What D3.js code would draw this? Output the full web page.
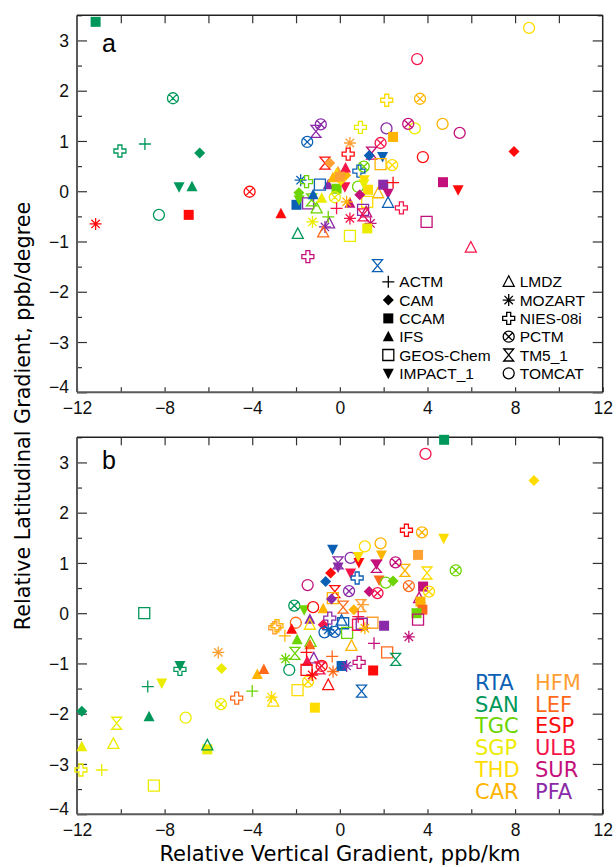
<!DOCTYPE html>
<html>
<head>
<meta charset="utf-8">
<title>vertical vs latitudinal gradient</title>
<style>
body { margin: 0; background: #fff; }
svg { display: block; }
.tick text { font-family: "Liberation Sans", Arial, sans-serif; font-size: 17.5px; fill: #111; }
.tick line { stroke: #333; stroke-width: 1.2; }
.domain { display: none; }
</style>
</head>
<body>
<svg width="616" height="867"></svg>
<script src="https://d3js.org/d3.v7.min.js"></script>
<script>
var stations = ["RTA", "SAN", "TGC", "SGP", "THD", "CAR", "HFM", "LEF", "ESP", "ULB", "SUR", "PFA"];
var stationColors = ["#0b5fb5", "#00985a", "#6cd400", "#ecec00", "#ffdc00", "#ffb400",
                     "#ffa035", "#ff6a1a", "#ff0a0a", "#f5154a", "#c3107a", "#8a2aa8"];
var models = ["ACTM", "CAM", "CCAM", "IFS", "GEOS-Chem", "IMPACT_1",
              "LMDZ", "MOZART", "NIES-08i", "PCTM", "TM5_1", "TOMCAT"];
var xTicks = [-12, -8, -4, 0, 4, 8, 12];
var yTicks = [-4, -3, -2, -1, 0, 1, 2, 3];

// [station, model, relative vertical gradient (ppb/km), relative latitudinal gradient (ppb/degree)]
var panelA = [
    ["SAN","CCAM",-11.15,3.37], ["SAN","PCTM",-7.62,1.85], ["SAN","NIES-08i",-10.04,0.80],
    ["SAN","ACTM",-8.90,0.94], ["SAN","CAM",-6.40,0.76], ["SAN","IMPACT_1",-7.34,0.09],
    ["SAN","IFS",-6.75,0.09], ["ESP","PCTM",-4.12,-0.01], ["ESP","MOZART",-11.15,-0.65],
    ["SAN","TOMCAT",-8.26,-0.47], ["ESP","CCAM",-6.90,-0.47], ["ESP","IFS",-2.69,-0.45],
    ["SAN","LMDZ",-1.92,-0.85], ["SUR","NIES-08i",-1.46,-1.30], ["RTA","TM5_1",1.72,-1.48],
    ["ULB","LMDZ",5.98,-1.12], ["SUR","GEOS-Chem",3.96,-0.61], ["ESP","CAM",7.95,0.79],
    ["SUR","CCAM",4.71,0.18], ["ESP","IMPACT_1",5.40,0.03], ["THD","TOMCAT",8.64,3.25],
    ["ULB","TOMCAT",3.53,2.63], ["CAR","PCTM",3.66,1.84], ["THD","NIES-08i",2.14,1.81],
    ["CAR","TOMCAT",4.69,1.34], ["SUR","TOMCAT",5.47,1.16], ["ESP","TOMCAT",3.79,0.68],
    ["SGP","TOMCAT",3.42,1.25], ["SUR","PCTM",3.12,1.34], ["PFA","TOMCAT",2.13,1.25],
    ["SGP","NIES-08i",0.94,1.27], ["CAR","CCAM",2.43,1.08], ["HFM","MOZART",0.46,0.96],
    ["ULB","PCTM",1.86,0.96], ["ESP","NIES-08i",0.38,0.74], ["SUR","TM5_1",1.45,0.76],
    ["RTA","CAM",1.34,0.71], ["RTA","IMPACT_1",1.95,0.69], ["CAR","GEOS-Chem",1.86,0.54],
    ["THD","PCTM",2.39,0.52], ["TGC","PCTM",1.09,0.49], ["RTA","NIES-08i",0.87,0.40],
    ["ESP","TM5_1",-0.68,0.56], ["HFM","CAM",-0.46,0.56], ["PFA","PCTM",-0.87,1.33],
    ["PFA","TM5_1",-1.09,1.19], ["RTA","PCTM",-1.49,0.98], ["HFM","IFS",-0.08,0.39],
    ["CAR","CAM",0.27,0.32], ["THD","IFS",-0.15,0.36], ["ULB","IFS",0.26,0.46],
    ["THD","IMPACT_1",1.11,0.23], ["ULB","IMPACT_1",0.23,0.09], ["PFA","IFS",-0.53,0.13],
    ["RTA","GEOS-Chem",-0.91,0.13], ["TGC","CCAM",-0.15,0.05], ["RTA","MOZART",-1.79,0.22],
    ["TGC","NIES-08i",-1.52,0.19], ["TGC","CAM",-1.87,-0.03], ["RTA","CCAM",-1.98,-0.27],
    ["TGC","IMPACT_1",-1.86,-0.17], ["PFA","GEOS-Chem",-1.45,-0.24], ["TGC","TM5_1",-1.29,-0.17],
    ["RTA","IFS",-1.22,-0.07], ["TGC","LMDZ",-1.06,-0.34], ["SGP","IFS",-0.83,-0.14],
    ["SGP","PCTM",-0.23,-0.12], ["TGC","TOMCAT",0.83,0.09], ["THD","CCAM",1.29,0.03],
    ["CAR","LMDZ",1.75,-0.04], ["PFA","CCAM",1.98,0.13], ["ESP","ACTM",2.43,0.17],
    ["SUR","IMPACT_1",2.20,-0.04], ["RTA","LMDZ",2.20,-0.23], ["ULB","NIES-08i",2.81,-0.33],
    ["THD","GEOS-Chem",1.25,-0.21], ["SUR","IFS",0.46,-0.24], ["ULB","ACTM",-0.15,-0.34],
    ["CAR","MOZART",0.31,-0.21], ["PFA","GEOS-Chem",1.06,-0.37], ["SUR","LMDZ",1.20,-0.42],
    ["SUR","CAM",0.91,-0.07], ["ULB","MOZART",0.46,-0.54], ["ULB","TM5_1",1.06,-0.47],
    ["SUR","MOZART",1.40,-0.64], ["SGP","CCAM",1.25,-0.74], ["SGP","MOZART",-1.25,-0.61],
    ["PFA","MOZART",-0.68,-0.71], ["PFA","LMDZ",-0.49,-0.64], ["LEF","LMDZ",-0.76,-0.82],
    ["TGC","ACTM",-0.53,-0.51], ["SGP","GEOS-Chem",0.46,-0.89], ["CAR","IFS",-0.32,0.27],
    ["THD","CAM",0.05,0.22], ["HFM","CCAM",0.00,0.29], ["SGP","IMPACT_1",1.10,0.15]
];

var panelB = [
    ["SAN","GEOS-Chem",-8.93,0.00], ["HFM","MOZART",-5.55,-0.78], ["SGP","CAM",-5.40,-1.10],
    ["SAN","IMPACT_1",-7.30,-1.04], ["SAN","NIES-08i",-7.30,-1.12], ["SAN","ACTM",-8.77,-1.46],
    ["SGP","IMPACT_1",-8.13,-1.39], ["SAN","CAM",-11.78,-1.95], ["SAN","IFS",-8.71,-2.06],
    ["SGP","TM5_1",-10.19,-2.19], ["SGP","TOMCAT",-7.04,-2.08], ["SGP","PCTM",-5.43,-1.81],
    ["LEF","NIES-08i",-4.71,-1.69], ["TGC","ACTM",-4.00,-1.55], ["THD","MOZART",-3.12,-1.67],
    ["THD","LMDZ",-3.04,-1.76], ["CAR","IFS",-3.77,-1.22], ["LEF","IFS",-3.47,-1.12],
    ["SGP","IFS",-11.78,-2.66], ["SGP","LMDZ",-10.34,-2.60], ["SGP","CCAM",-6.05,-2.71],
    ["SAN","LMDZ",-6.05,-2.63], ["SGP","NIES-08i",-11.82,-3.12], ["SGP","ACTM",-10.87,-3.12],
    ["SGP","GEOS-Chem",-8.49,-3.43], ["TGC","TM5_1",-2.05,-0.80], ["TGC","MOZART",-2.48,-0.91],
    ["SAN","TOMCAT",-2.31,-1.13], ["THD","GEOS-Chem",-1.93,-1.53], ["THD","CCAM",-1.14,-1.88],
    ["THD","PCTM",-1.45,-1.36], ["RTA","IMPACT_1",-0.33,1.27], ["PFA","TM5_1",-0.08,1.00],
    ["PFA","TOMCAT",0.49,1.10], ["PFA","IMPACT_1",-0.08,0.92], ["ESP","IMPACT_1",0.87,1.01],
    ["THD","IMPACT_1",0.84,1.13], ["THD","TOMCAT",1.14,1.33], ["CAR","TOMCAT",1.86,1.39],
    ["CAR","IMPACT_1",1.90,1.16], ["SUR","IMPACT_1",1.67,0.98], ["SUR","TM5_1",1.67,0.93],
    ["ESP","CAM",-0.42,0.80], ["RTA","CAM",-0.65,0.63], ["SUR","TOMCAT",-1.47,0.56],
    ["ULB","IMPACT_1",0.49,0.80], ["RTA","NIES-08i",0.79,0.70], ["LEF","IMPACT_1",1.79,0.66],
    ["TGC","TOMCAT",2.10,0.61], ["TGC","CAM",2.43,0.64], ["PFA","PCTM",0.42,0.44],
    ["ESP","TM5_1",-0.23,0.43], ["SUR","CAM",1.34,0.43], ["ULB","PCTM",1.72,0.40],
    ["CAR","GEOS-Chem",-0.32,0.30], ["PFA","CAM",-0.38,0.28], ["SAN","PCTM",-2.08,0.15],
    ["TGC","IMPACT_1",-1.63,0.07], ["ESP","TOMCAT",-1.22,0.12], ["CAR","IFS",-0.76,0.09],
    ["LEF","TM5_1",0.15,0.12], ["CAR","CAM",0.64,0.07], ["HFM","TM5_1",0.96,0.15],
    ["HFM","ACTM",1.06,0.17], ["PFA","IFS",-1.37,-0.12], ["THD","LMDZ",-1.37,-0.23],
    ["LEF","TOMCAT",-2.01,-0.19], ["HFM","NIES-08i",-2.97,-0.29], ["CAR","NIES-08i",-2.87,-0.25],
    ["ESP","IFS",-2.20,-0.32], ["CAR","ACTM",-2.51,-0.45], ["PFA","NIES-08i",-0.46,-0.10],
    ["RTA","LMDZ",0.08,-0.15], ["RTA","GEOS-Chem",0.15,-0.20], ["ULB","CAM",-0.76,-0.23],
    ["RTA","MOZART",-0.53,-0.33], ["RTA","PCTM",-0.23,-0.37], ["RTA","TOMCAT",-0.70,-0.38],
    ["TGC","GEOS-Chem",0.33,-0.39], ["PFA","CCAM",2.02,-0.25], ["HFM","GEOS-Chem",1.49,-0.19],
    ["ULB","GEOS-Chem",0.83,-0.23], ["PFA","GEOS-Chem",1.00,-0.21], ["CAR","MOZART",1.14,-0.30],
    ["CAR","LMDZ",0.53,-0.65], ["SUR","ACTM",1.56,-0.60], ["LEF","GEOS-Chem",2.16,-0.78],
    ["TGC","IFS",-1.95,-0.53], ["TGC","LMDZ",-1.34,-0.57], ["LEF","IFS",-1.37,-0.63],
    ["LEF","ACTM",-0.35,-0.86], ["PFA","LMDZ",-1.19,-0.90], ["ESP","ACTM",-1.52,-0.78],
    ["ULB","IFS",-1.49,-0.96], ["ESP","GEOS-Chem",-1.52,-1.13], ["ESP","PCTM",-0.83,-1.05],
    ["ULB","TM5_1",-0.91,-1.09], ["ESP","MOZART",-1.26,-1.23], ["LEF","MOZART",-0.31,-1.16],
    ["RTA","CCAM",0.08,-1.05], ["PFA","MOZART",0.31,-1.05], ["SUR","NIES-08i",0.88,-0.98],
    ["ESP","CCAM",1.52,-1.14], ["ESP","LMDZ",-0.53,-1.43], ["RTA","TM5_1",0.99,-1.55],
    ["SAN","CCAM",4.76,3.45], ["ULB","TOMCAT",3.91,3.17], ["THD","CAM",8.86,2.64],
    ["ESP","NIES-08i",3.04,1.65], ["CAR","PCTM",3.75,1.61], ["THD","IMPACT_1",4.74,1.49],
    ["HFM","CCAM",3.57,1.16], ["CAR","TM5_1",2.97,0.85], ["THD","TM5_1",3.98,0.80],
    ["TGC","PCTM",5.29,0.85], ["SUR","PCTM",2.54,1.01], ["LEF","PCTM",3.15,0.54],
    ["SUR","CCAM",3.80,0.53], ["THD","PCTM",4.07,0.43], ["SUR","LMDZ",3.62,0.30],
    ["CAR","CCAM",3.68,0.23], ["LEF","CCAM",3.77,0.07], ["TGC","CCAM",3.50,0.00],
    ["SUR","GEOS-Chem",3.57,-0.13], ["SUR","MOZART",3.15,-0.47], ["SAN","TM5_1",2.55,-0.92],
    ["ULB","ACTM",0.84,-0.07]
];

var svg = d3.select("svg");
var x = d3.scaleLinear().domain([-12, 12]).range([77, 602.7]);
var color = d3.scaleOrdinal().domain(stations).range(stationColors);
var filled = ["CAM", "CCAM", "IFS", "IMPACT_1"];

function shape(m) {
    var circle = "M5.5,0A5.5,5.5 0 1,1 -5.5,0A5.5,5.5 0 1,1 5.5,0Z";
    switch (m) {
        case "ACTM": return "M-6,0H6M0,-6V6";
        case "CAM": return "M0,-5.5L5.5,0L0,5.5L-5.5,0Z";
        case "CCAM": return "M-5,-5H5V5H-5Z";
        case "IFS": return "M0,-6L5.5,4.5H-5.5Z";
        case "GEOS-Chem": return "M-5.5,-5.5H5.5V5.5H-5.5Z";
        case "IMPACT_1": return "M-5.5,-4.5H5.5L0,6Z";
        case "LMDZ": return "M0,-6L5.5,4.5H-5.5Z";
        case "MOZART": return "M-6,0H6M0,-6V6M-4.2,-4.2L4.2,4.2M-4.2,4.2L4.2,-4.2";
        case "NIES-08i": return "M-2,-6H2V-2H6V2H2V6H-2V2H-6V-2H-2Z";
        case "PCTM": return circle + "M-3.9,-3.9L3.9,3.9M-3.9,3.9L3.9,-3.9";
        case "TM5_1": return "M-5,-6H5L-5,6H5Z";
        default: return circle;
    }
}

function styleMark(sel, col) {
    sel.attr("d", d => shape(d[1]))
        .attr("fill", d => filled.indexOf(d[1]) >= 0 ? col(d) : "none")
        .attr("stroke", d => filled.indexOf(d[1]) >= 0 ? "none" : col(d))
        .attr("stroke-width", 1.3);
}

function drawPanel(rows, top, bottom, label, labelBase) {
    var y = d3.scaleLinear().domain([-4, 3.5]).range([bottom, top]);
    var g = svg.append("g");

    // ticks (inward)
    g.append("g").attr("transform", "translate(77,0)")
        .call(d3.axisLeft(y).tickValues(yTicks).tickSize(-10).tickPadding(8).tickFormat(d3.format("d")))
        .call(a => a.selectAll(".tick text").attr("dy", "0.35em")
            .attr("transform", d => d === -4 ? "translate(0,-6)" : null));
    g.append("g").attr("transform", "translate(77,0)")
        .call(d3.axisLeft(y).tickValues(d3.range(-3.5, 3.6, 1)).tickSize(-5).tickFormat(""));
    g.append("g").attr("transform", "translate(602.7,0)")
        .call(d3.axisRight(y).tickValues(yTicks).tickSize(-10).tickFormat(""));
    g.append("g").attr("transform", "translate(602.7,0)")
        .call(d3.axisRight(y).tickValues(d3.range(-3.5, 3.6, 1)).tickSize(-5).tickFormat(""));
    g.append("g").attr("transform", "translate(0," + bottom + ")")
        .call(d3.axisBottom(x).tickValues(xTicks).tickSize(-5).tickPadding(6).tickFormat(d3.format("d")))
        .call(a => a.selectAll(".tick text").attr("dy", "0.9em"));
    g.append("g").attr("transform", "translate(0," + bottom + ")")
        .call(d3.axisBottom(x).tickValues(d3.range(-10, 11, 4)).tickSize(-5).tickFormat(""));
    g.append("g").attr("transform", "translate(0," + top + ")")
        .call(d3.axisTop(x).tickValues(d3.range(-10, 11, 2)).tickSize(-8).tickFormat(""));

    // frame
    g.append("line").attr("x1", 77).attr("x2", 77).attr("y1", top).attr("y2", bottom)
        .attr("stroke", "#5a5a5a").attr("stroke-width", 2);
    g.append("line").attr("x1", 77).attr("x2", 602.7).attr("y1", bottom).attr("y2", bottom)
        .attr("stroke", "#5a5a5a").attr("stroke-width", 2);
    g.append("line").attr("x1", 77).attr("x2", 602.7).attr("y1", top).attr("y2", top)
        .attr("stroke", "#222").attr("stroke-width", 1.5);
    g.append("line").attr("x1", 602.7).attr("x2", 602.7).attr("y1", top).attr("y2", bottom)
        .attr("stroke", "#222").attr("stroke-width", 1.5);

    g.append("text").attr("x", 102).attr("y", labelBase)
        .style("font-family", "Liberation Sans, Arial, sans-serif").style("font-size", "25px")
        .text(label);

    g.append("g").selectAll("path")
        .data(rows)
        .enter()
        .append("path")
        .attr("transform", d => "translate(" + x(d[2]) + "," + y(d[3]) + ")")
        .call(styleMark, d => color(d[0]));
    return g;
}

var gA = drawPanel(panelA, 15.3, 392.3, "a", 52);
var gB = drawPanel(panelB, 437.3, 814.2, "b", 469);

// model legend (panel a)
var legA = svg.append("g").selectAll("g")
    .data(models)
    .enter()
    .append("g")
    .attr("transform", (d, i) => "translate(" + (i < 6 ? 388.3 : 508.7) + "," + (287.3 + (i % 6) * 18.3) + ")");
legA.append("path")
    .datum(d => [null, d])
    .attr("transform", "translate(0,-5.5)")
    .call(styleMark, () => "#000");
legA.append("text")
    .attr("x", 11)
    .style("font-family", "Liberation Sans, Arial, sans-serif")
    .style("font-size", "15.5px")
    .text(d => d);

// station legend (panel b)
svg.append("g").selectAll("text")
    .data(stations)
    .enter()
    .append("text")
    .attr("x", (d, i) => i < 6 ? 475 : 535)
    .attr("y", (d, i) => 690 + (i % 6) * 21.7)
    .attr("fill", d => color(d))
    .style("font-family", "DejaVu Sans, sans-serif")
    .style("font-size", "21px")
    .text(d => d);

// axis titles
svg.append("text")
    .attr("transform", "translate(30,416) rotate(-90)")
    .attr("text-anchor", "middle")
    .style("font-family", "DejaVu Sans, sans-serif")
    .style("font-size", "20.7px")
    .text("Relative Latitudinal Gradient, ppb/degree");
svg.append("text")
    .attr("x", 340).attr("y", 861)
    .attr("text-anchor", "middle")
    .style("font-family", "DejaVu Sans, sans-serif")
    .style("font-size", "21px")
    .text("Relative Vertical Gradient, ppb/km");
</script>
</body>
</html>
